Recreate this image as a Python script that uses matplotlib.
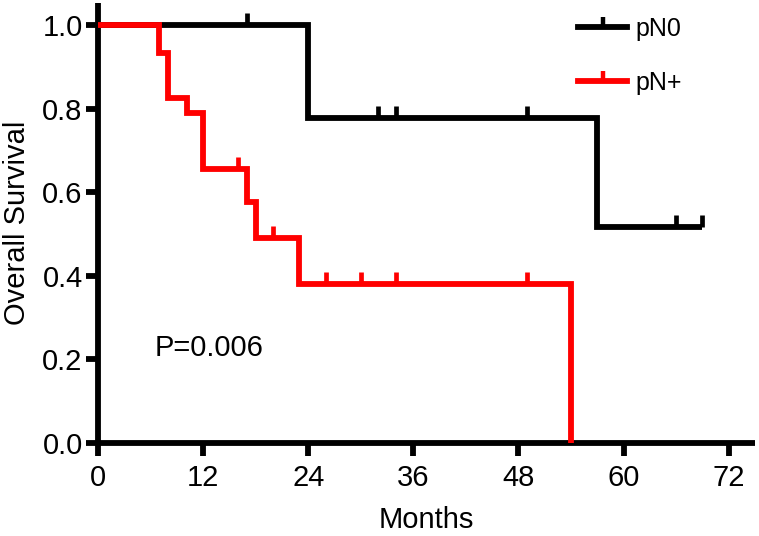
import numpy as np
import matplotlib
matplotlib.use("Agg")
import matplotlib.pyplot as plt
from matplotlib.path import Path
from matplotlib.lines import Line2D

plt.rcParams['font.family'] = ['Liberation Sans', 'DejaVu Sans']

# Data
pn0_times = [0, 24, 57, 69]
pn0_surv = [1.0, 0.777, 0.517, 0.517]
pn0_censor = [17, 32, 34, 49, 66, 69]

pnp_times = [0, 7, 8, 10.2, 12, 17, 18, 23, 54]
pnp_surv = [1.0, 0.933, 0.825, 0.79, 0.655, 0.577, 0.49, 0.38, 0.0]
pnp_censor = [16, 20, 26, 30, 34, 49]

xticks = [0, 12, 24, 36, 48, 60, 72]
yticks = [0.0, 0.2, 0.4, 0.6, 0.8, 1.0]
labels = ['pN0', 'pN+']
colors = ['black', '#ff0000']
p_text = 'P=0.006'


def surv_at(times, surv, t):
    idx = np.searchsorted(times, t, side='right') - 1
    return np.asarray(surv)[idx]


censor_marker = Path([(0, 0), (0, 1)])

fig = plt.figure(figsize=(7.59, 5.36), dpi=100)
ax = fig.add_axes([98 / 759, (536 - 443) / 536, (755 - 98) / 759, (443 - 3) / 536])

lw = 4.2
series = [(pn0_times, pn0_surv, pn0_censor), (pnp_times, pnp_surv, pnp_censor)]
for (t, s, c), col, lab in zip(series, colors, labels):
    ax.step(t, s, where='post', color=col, lw=lw, solid_joinstyle='miter',
            solid_capstyle='butt', clip_on=False, zorder=3)
    cy = surv_at(t, s, c)
    ax.plot(c, cy, linestyle='none', marker=censor_marker, markersize=17,
            markeredgewidth=3.4, color=col, clip_on=False, zorder=3)

handles = [Line2D([0], [0], color=col, lw=lw, marker=censor_marker, markersize=15,
                  markeredgewidth=3.2) for col in colors]
leg = ax.legend(handles, labels, loc='upper left', bbox_to_anchor=(0.697, 1.02),
                frameon=False, fontsize=18, handlelength=1.95, handletextpad=0.35,
                labelspacing=1.2, numpoints=1, borderpad=0.4)

ax.text(12.7, 0.227, p_text, fontsize=21, ha='center', va='center')

ax.set_xlim(0, 75)
ax.set_ylim(0, 1.053)
ax.set_xticks(xticks)
ax.set_xticklabels([str(v) for v in xticks])
ax.set_yticks(yticks)
ax.set_yticklabels([f'{v:.1f}' for v in yticks])

for side in ['top', 'right']:
    ax.spines[side].set_visible(False)
for side in ['left', 'bottom']:
    ax.spines[side].set_linewidth(4.2)
    ax.spines[side].set_capstyle('butt')

ax.tick_params(axis='both', direction='out', length=9, width=4.2, labelsize=21)
ax.tick_params(axis='x', pad=6)
ax.tick_params(axis='y', pad=2)
ax.set_xlabel('Months', fontsize=21, labelpad=10)
ax.set_ylabel('Overall Survival', fontsize=21, labelpad=8)

fig.savefig('out.png', dpi=100)
